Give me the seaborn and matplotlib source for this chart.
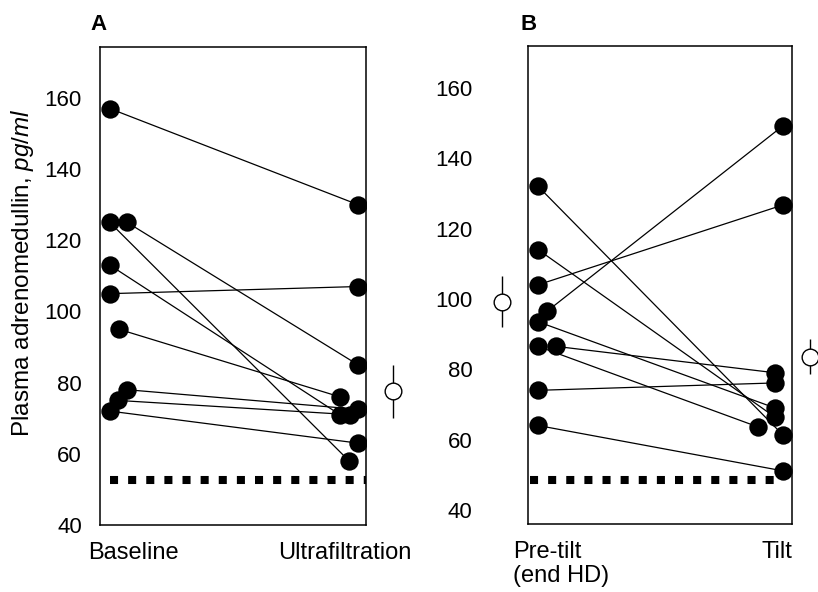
import numpy as np
import pandas as pd
import matplotlib
matplotlib.use("Agg")
import matplotlib.pyplot as plt
import seaborn as sns

# Panel A: baseline vs ultrafiltration (pg/ml), one pair per patient
a_baseline = [157, 125, 125, 113, 105, 95, 78, 75, 72]
a_ultrafiltration = [130, 58, 85, 71, 107, 76, 72.5, 71, 63]
a_labels = ["Baseline", "Ultrafiltration"]
a_mean, a_sem = 77.6, 7.4
a_reference = 52.6

# Panel B: pre-tilt (end HD) vs tilt
b_pretilt = [132, 114, 104, 96.5, 93.5, 86.5, 86.5, 74, 64]
b_tilt = [61.3, 66.4, 126.7, 149.2, 69.0, 79.0, 63.6, 76.1, 51.1]
b_labels = ["Pre-tilt\n(end HD)", "Tilt"]
b_means, b_sems = [99.2, 83.6], [7.2, 5.0]
b_reference = 48.5

yticks = [40, 60, 80, 100, 120, 140, 160]

# horizontal nudges so overlapping dots stay visible (data units)
a_nudge_left = [0, 0, 0.07, 0, 0, 0.036, 0.07, 0.032, 0]
a_nudge_right = [0, -0.036, 0, -0.073, 0, -0.073, 0, -0.032, 0]
b_nudge_left = [0, 0, 0, 0.037, 0, 0.073, 0, 0, 0]
b_nudge_right = [0, -0.033, 0, 0, -0.033, -0.033, -0.102, -0.033, 0]

sns.set_style("white")
plt.rcParams["font.family"] = ["Liberation Sans", "DejaVu Sans"]
plt.rcParams["text.color"] = "black"
plt.rcParams["ytick.color"] = "black"
plt.rcParams["mathtext.fontset"] = "custom"
plt.rcParams["mathtext.rm"] = "Liberation Sans"
plt.rcParams["mathtext.it"] = "Liberation Sans:italic"

FS = 16
XFS = 17


def long_form(before, after, nudge_l, nudge_r):
    rows = []
    for i, (v0, v1) in enumerate(zip(before, after)):
        rows.append({"subject": i, "x": 0 + nudge_l[i], "value": v0})
        rows.append({"subject": i, "x": 1 + nudge_r[i], "value": v1})
    return pd.DataFrame(rows)


def draw_pairs(ax, df):
    sns.lineplot(data=df, x="x", y="value", units="subject", estimator=None,
                 sort=False, color="black", lw=0.9, ax=ax, legend=False)
    sns.scatterplot(data=df, x="x", y="value", color="black", s=175,
                    edgecolor="black", linewidth=0, ax=ax, legend=False,
                    zorder=3)


def style_axis(ax, pad):
    for sp in ax.spines.values():
        sp.set_visible(True)
        sp.set_color("black")
        sp.set_linewidth(1.1)
    ax.set_xticks([])
    ax.set_yticks(yticks)
    ax.tick_params(axis="y", length=0, pad=pad, labelsize=FS, labelcolor="black")
    ax.set_xlabel("")
    ax.set_ylabel("")


fig = plt.figure(figsize=(8.18, 5.92), dpi=100)
ax_a = fig.add_axes([0.1222, 0.1132, 0.3252, 0.8074])
ax_b = fig.add_axes([0.6455, 0.1149, 0.3227, 0.8074])

# ---- panel A
df_a = long_form(a_baseline, a_ultrafiltration, a_nudge_left, a_nudge_right)
draw_pairs(ax_a, df_a)
ax_a.plot([0, 1.04], [a_reference, a_reference], color="black", lw=5.8,
          dashes=(1.0, 1.25), solid_capstyle="butt", dash_capstyle="butt")
ax_a.errorbar([1.141], [a_mean], yerr=[a_sem], fmt="o", ms=12,
              mfc="white", mec="black", mew=1.0, ecolor="black",
              elinewidth=1.0, capsize=0, clip_on=False, zorder=4)
ax_a.set_xlim(-0.040, 1.032)
ax_a.set_ylim(40, 174.3)
style_axis(ax_a, 13)
ax_a.text(0.126, -0.036, a_labels[0], transform=ax_a.transAxes,
          ha="center", va="top", fontsize=XFS)
ax_a.text(0.920, -0.036, a_labels[1], transform=ax_a.transAxes,
          ha="center", va="top", fontsize=XFS)

# ---- panel B
df_b = long_form(b_pretilt, b_tilt, b_nudge_left, b_nudge_right)
draw_pairs(ax_b, df_b)
ax_b.plot([-0.033, 1.0], [b_reference, b_reference], color="black", lw=5.8,
          dashes=(1.0, 1.25), solid_capstyle="butt", dash_capstyle="butt")
ax_b.errorbar([-0.147, 1.11], b_means, yerr=b_sems, fmt="o", ms=12,
              mfc="white", mec="black", mew=1.0, ecolor="black",
              elinewidth=1.0, capsize=0, clip_on=False, zorder=4,
              ls="none")
ax_b.set_xlim(-0.041, 1.037)
ax_b.set_ylim(36.0, 171.9)
style_axis(ax_b, 40)
ax_b.text(-0.057, -0.036, b_labels[0], transform=ax_b.transAxes,
          ha="left", va="top", fontsize=XFS, linespacing=1.1)
ax_b.text(1.0, -0.036, b_labels[1], transform=ax_b.transAxes,
          ha="right", va="top", fontsize=XFS)

# panel letters and shared y label
fig.text(0.110, 0.958, "A", fontsize=16, fontweight="bold", ha="left", va="center")
fig.text(0.636, 0.958, "B", fontsize=16, fontweight="bold", ha="left", va="center")
fig.text(0.027, 0.54, r"Plasma adrenomedullin, $\it{pg/ml}$", rotation=90,
         ha="center", va="center", fontsize=17.5)

fig.savefig("out.png", dpi=100)
